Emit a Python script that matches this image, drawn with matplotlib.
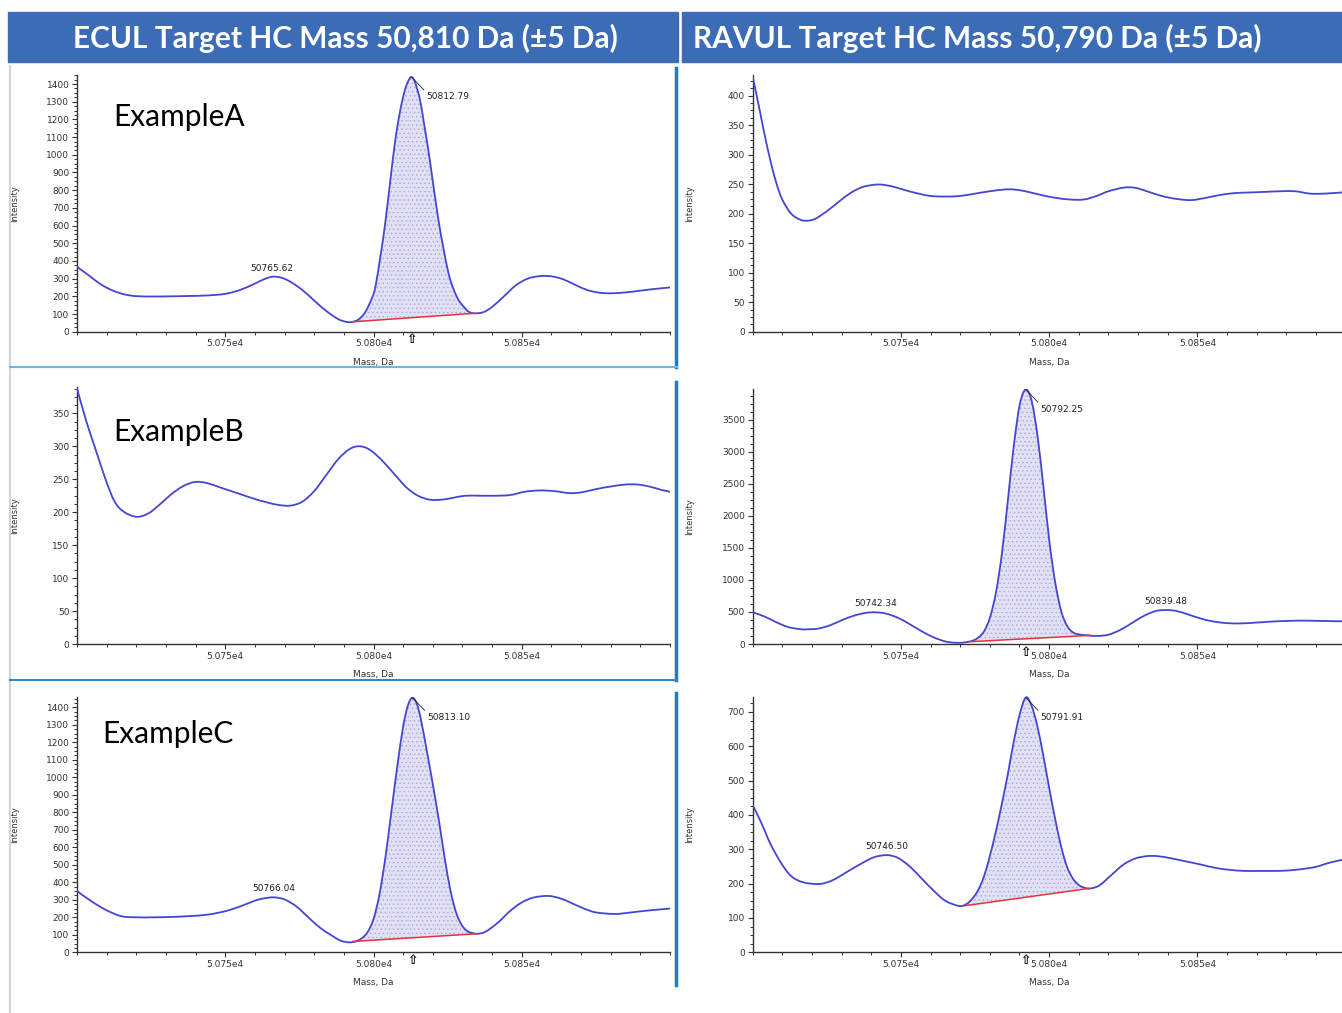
import matplotlib
matplotlib.use("Agg")
import matplotlib.pyplot as plt
from matplotlib.patches import Rectangle, PathPatch
from matplotlib.path import Path
from matplotlib.lines import Line2D
from matplotlib.ticker import FixedLocator, MultipleLocator, AutoMinorLocator

W, H = 1342, 1013

headers = ["ECUL Target HC Mass 50,810 Da (\u00b15 Da)",
           "RAVUL Target HC Mass 50,790 Da (\u00b15 Da)"]
sample_names = ["ExampleA", "ExampleB", "ExampleC"]
x_ticks = [50750, 50800, 50850]
x_tick_labels = ["5.075e4", "5.080e4", "5.085e4"]

# ---- ECUL / ExampleA ----
mass_a = [50700, 50704, 50708, 50712, 50716, 50720, 50726, 50732, 50738, 50744,
          50750, 50755, 50760, 50763, 50766, 50769, 50772, 50776, 50780, 50784,
          50788, 50791, 50793, 50795, 50797, 50798.7, 50800.4, 50802, 50803.8, 50805.5,
          50807.2, 50809, 50810.6, 50811.8, 50812.8, 50814, 50815.7, 50817, 50818.5, 50820,
          50821.9, 50823.5, 50825.3, 50827, 50828.7, 50830.5, 50832.1, 50834, 50837, 50840,
          50844, 50848, 50852, 50856, 50860, 50864, 50868, 50872, 50876, 50880,
          50885, 50890, 50895, 50900]
int_a = [367, 318, 268, 233, 211, 201, 199, 200, 202, 205,
         214, 236, 272, 296, 311, 305, 282, 236, 176, 118,
         72, 55, 56, 70, 105, 160, 236, 390, 594, 830,
         1065, 1250, 1366, 1420, 1440, 1410, 1310, 1180, 1027, 850,
         631, 480, 330, 240, 179, 140, 113, 104, 110, 140,
         200, 262, 300, 314, 313, 296, 265, 236, 221, 217,
         222, 232, 242, 250]
base_a_x = [50793, 50834]
base_a_y = [56, 104]

# ---- ECUL / ExampleB ----
mass_b = [50700, 50703, 50706, 50709.7, 50712.7, 50715.7, 50720, 50724, 50728, 50732,
          50736, 50740, 50744, 50748, 50752, 50756, 50760, 50764, 50768, 50772,
          50776, 50780, 50784, 50788, 50792, 50795.5, 50799, 50803, 50807, 50811,
          50815, 50819, 50823, 50827, 50831, 50836, 50841, 50846, 50851, 50856,
          50861, 50866, 50870, 50875, 50880, 50885, 50889, 50893, 50897, 50900]
int_b = [388, 340, 299, 249, 216, 201, 193, 198, 212, 228,
         240, 246, 244, 238, 232, 226, 220, 215, 211, 210,
         216, 232, 256, 280, 296, 300, 294, 278, 258, 238,
         225, 219, 219, 222, 225, 225, 225, 226, 231, 233,
         232, 229, 230, 235, 239, 242, 242, 239, 234, 231]

# ---- ECUL / ExampleC ----
mass_c = [50700, 50705, 50710, 50715, 50720, 50726, 50732, 50738, 50744, 50750,
          50755, 50760, 50763, 50766.4, 50770, 50774, 50778, 50782, 50786, 50789,
          50791.8, 50794, 50796, 50798, 50800, 50802, 50804, 50806, 50808, 50810,
          50811.6, 50813.1, 50814.6, 50816, 50818, 50820, 50822, 50824, 50826, 50828,
          50830, 50832, 50835, 50838, 50842, 50846, 50850, 50854, 50858.9, 50863,
          50867, 50871, 50875, 50881.3, 50886, 50891, 50896, 50900]
int_c = [350, 290, 240, 206, 200, 200, 202, 207, 215, 235,
         262, 295, 308, 314, 302, 262, 200, 140, 95, 66,
         57, 62, 80, 115, 190, 330, 540, 800, 1060, 1290,
         1410, 1455, 1420, 1330, 1150, 960, 760, 540, 350, 220,
         150, 118, 106, 120, 170, 235, 285, 313, 322, 308,
         280, 250, 228, 219, 226, 236, 244, 250]
base_c_x = [50793, 50835]
base_c_y = [62, 106]

# ---- RAVUL / ExampleA ----
mass_d = [50700, 50702, 50704, 50706, 50708, 50710, 50713, 50716, 50718.2, 50721,
          50725, 50729, 50733, 50737, 50741, 50744, 50748, 50752, 50756, 50760,
          50765, 50770, 50775, 50780, 50785, 50788, 50792, 50797, 50802, 50807,
          50811.7, 50816, 50820, 50825, 50828.8, 50833, 50838, 50843, 50848, 50853,
          50858, 50863, 50868, 50873, 50878, 50883, 50888, 50893, 50899, 50902]
int_d = [433, 385, 335, 290, 252, 224, 200, 190, 188, 191,
         204, 220, 235, 245, 249, 249, 245, 239, 234, 230,
         229, 230, 234, 238, 241, 241, 238, 232, 227, 224,
         224, 230, 238, 244, 244, 238, 230, 225, 223, 227,
         232, 235, 236, 237, 238, 238, 234, 234, 236, 236]

# ---- RAVUL / ExampleB ----
mass_e = [50700, 50704, 50708, 50712, 50716, 50718.2, 50722, 50726, 50730, 50734,
          50738, 50741.5, 50745, 50749, 50753, 50757, 50761, 50765, 50768.2, 50771,
          50774.1, 50776.1, 50778.1, 50780.1, 50782.1, 50784.1, 50786.1, 50788.1, 50790.1, 50792.1,
          50794.1, 50796.1, 50798.1, 50800.1, 50802.1, 50804.1, 50806.1, 50808.1, 50810.1, 50813,
          50816, 50820, 50824, 50828, 50832, 50836, 50839.5, 50843, 50847, 50851,
          50855, 50860, 50865, 50870, 50875, 50880, 50885, 50890, 50895, 50900, 50902]
int_e = [495, 430, 340, 265, 232, 229, 240, 290, 370, 440,
         485, 495, 475, 410, 310, 200, 105, 40, 20, 22,
         50, 100, 200, 420, 810, 1420, 2250, 3100, 3740, 3975,
         3800, 3250, 2450, 1600, 950, 510, 280, 180, 150, 135,
         125, 145, 220, 330, 440, 515, 531, 515, 460, 400,
         355, 326, 322, 335, 350, 360, 365, 362, 357, 355, 355]
base_e_x = [50773, 50814]
base_e_y = [35, 135]

# ---- RAVUL / ExampleC ----
mass_f = [50700, 50703, 50706, 50709.7, 50713, 50717, 50722.5, 50727, 50732, 50737,
          50741, 50745.3, 50749, 50753, 50757, 50761, 50765, 50769.6, 50772, 50774,
          50776, 50778, 50780, 50782, 50784, 50786, 50788, 50790, 50792.1, 50794,
          50796, 50798, 50800, 50802, 50804, 50806, 50808, 50810, 50812, 50814,
          50817, 50821, 50825, 50829, 50833, 50836.6, 50841, 50846, 50851, 50856,
          50861, 50866, 50871, 50876, 50880, 50885, 50890, 50895, 50900, 50902]
int_f = [429, 376, 316, 259, 222, 204, 199, 210, 235, 260,
         277, 283, 275, 250, 215, 180, 150, 135, 140, 155,
         180, 220, 280, 350, 430, 515, 610, 690, 742, 720,
         660, 575, 480, 390, 310, 250, 215, 196, 188, 186,
         195, 225, 255, 273, 280, 280, 274, 265, 256, 246,
         240, 237, 237, 237, 238, 242, 249, 262, 271, 274]
base_f_x = [50771, 50813.5]
base_f_y = [135, 186]

LINE = "#4545d2"
plt.rcParams["hatch.linewidth"] = 0.5

fig = plt.figure(figsize=(W / 100, H / 100), dpi=100)


def px(x0, y0, x1, y1):
    return [x0 / W, 1 - y1 / H, (x1 - x0) / W, (y1 - y0) / H]


def smooth_segments(xs, ys, i0, i1):
    # Catmull-Rom style bezier control points between the read points i0..i1
    verts = []
    n = len(xs)
    for i in range(i0, i1):
        p0 = max(i - 1, 0)
        p3 = min(i + 2, n - 1)
        c1 = (xs[i] + (xs[i + 1] - xs[p0]) / 6, ys[i] + (ys[i + 1] - ys[p0]) / 6)
        c2 = (xs[i + 1] - (xs[p3] - xs[i]) / 6, ys[i + 1] - (ys[p3] - ys[i]) / 6)
        verts += [c1, c2, (xs[i + 1], ys[i + 1])]
    return verts


# header bars
fig.patches.append(Rectangle((8 / W, 1 - 62 / H), 670 / W, 50 / H,
                             transform=fig.transFigure, color="#3c6cb5", zorder=0))
fig.patches.append(Rectangle((682 / W, 1 - 62 / H), 660 / W, 50 / H,
                             transform=fig.transFigure, color="#3c6cb5", zorder=0))
fig.text(345 / W, 1 - 38 / H, headers[0], color="white", fontsize=21.5,
         fontweight="bold", family="Lato", ha="center", va="center")
fig.text(977 / W, 1 - 38 / H, headers[1], color="white", fontsize=21.5,
         fontweight="bold", family="Lato", ha="center", va="center")

# frames round the left panels
fig.add_artist(Line2D([10 / W, 10 / W], [1 - 66 / H, 0], color="#d4d4d4", lw=1.5))
for y0, y1 in [(68, 367), (382, 680), (693, 985)]:
    fig.add_artist(Line2D([676 / W, 676 / W], [1 - y0 / H, 1 - y1 / H],
                          color="#1a7fc8", lw=2.5))
fig.add_artist(Line2D([10 / W, 677 / W], [1 - 367 / H, 1 - 367 / H], color="#6fb6dc", lw=1.5))
fig.add_artist(Line2D([10 / W, 677 / W], [1 - 680 / H, 1 - 680 / H], color="#2a8bd0", lw=1.5))


def draw(box, mass, inten, ymax, ystep, base_x=None, base_y=None, main=None, minors=()):
    ax = fig.add_axes(px(*box))
    ax.set_facecolor("none")
    verts = [(mass[0], inten[0])] + smooth_segments(mass, inten, 0, len(mass) - 1)
    codes = [Path.MOVETO] + [Path.CURVE4] * (len(verts) - 1)
    ax.add_patch(PathPatch(Path(verts, codes), fill=False, edgecolor=LINE,
                           lw=1.3, zorder=3, capstyle="round", joinstyle="round"))
    if base_x:
        idx = [i for i, m in enumerate(mass) if base_x[0] <= m <= base_x[1]]
        i0, i1 = idx[0], idx[-1]
        fverts = [(base_x[0], base_y[0]), (mass[i0], inten[i0])]
        fverts += smooth_segments(mass, inten, i0, i1)
        fverts += [(base_x[1], base_y[1]), (base_x[0], base_y[0])]
        fcodes = [Path.MOVETO, Path.LINETO] + [Path.CURVE4] * (3 * (i1 - i0)) \
            + [Path.LINETO, Path.CLOSEPOLY]
        ax.add_patch(PathPatch(Path(fverts, fcodes), facecolor="#e1e1f6",
                               edgecolor="#a5a5d4", hatch="....", lw=0, zorder=2))
        ax.plot(base_x, base_y, color="#e5323a", lw=1.1, zorder=4)
    if main:
        mx, my, txt = main
        ax.annotate(txt, xy=(mx, my), xytext=(15, -20), textcoords="offset pixels",
                    fontsize=6.5, color="#222222", ha="left", va="center",
                    arrowprops=dict(arrowstyle="-", lw=0.6, color="#222222",
                                    shrinkA=0, shrinkB=0, relpos=(0, 1)))
        ax.annotate("\u21e7", xy=(mx, 0), xycoords=("data", "axes fraction"),
                    xytext=(0, -8), textcoords="offset pixels", fontsize=9,
                    fontweight="bold", ha="center", va="center", annotation_clip=False)
    for mx, my, txt in minors:
        ax.annotate(txt, xy=(mx, my), xytext=(0, 4), textcoords="offset pixels",
                    fontsize=6.5, color="#222222", ha="center", va="bottom")
    ax.set_xlim(50700, 50900)
    ax.set_ylim(0, ymax)
    ax.spines[["top", "right"]].set_visible(False)
    for s in ["left", "bottom"]:
        ax.spines[s].set_color("#333333")
        ax.spines[s].set_linewidth(1.0)
    ax.xaxis.set_major_locator(FixedLocator(x_ticks))
    ax.set_xticklabels(x_tick_labels)
    ax.xaxis.set_minor_locator(MultipleLocator(10))
    ax.yaxis.set_major_locator(MultipleLocator(ystep))
    ax.yaxis.set_minor_locator(AutoMinorLocator(4))
    ax.tick_params(which="major", length=3.5, width=0.8, labelsize=6.5,
                   colors="#333333", pad=2)
    ax.tick_params(which="minor", length=2, width=0.7, colors="#333333")
    ax.set_xlabel("Mass, Da", fontsize=6.5, color="#333333")
    ax.set_ylabel("Intensity", fontsize=6, color="#333333")
    ax.xaxis.set_label_coords(0.5, -26 / (box[3] - box[1]))
    ax.yaxis.set_label_coords(-58 / (box[2] - box[0]), 0.5)
    return ax


draw((77, 75.2, 670, 331.7), mass_a, int_a, 1450, 100, base_a_x, base_a_y,
     (50812.8, 1440, "50812.79"), [(50765.6, 311, "50765.62")])
draw((77, 387, 670, 644), mass_b, int_b, 390, 50)
draw((77, 696.8, 670, 952.3), mass_c, int_c, 1460, 100, base_c_x, base_c_y,
     (50813.1, 1455, "50813.10"), [(50766.4, 314, "50766.04")])
draw((752.6, 75, 1345.6, 331.7), mass_d, int_d, 435, 50)
draw((752.6, 388.6, 1345.6, 644), mass_e, int_e, 3990, 500, base_e_x, base_e_y,
     (50792.1, 3975, "50792.25"),
     [(50741.5, 495, "50742.34"), (50839.5, 531, "50839.48")])
draw((752.6, 696.5, 1345.6, 952.3), mass_f, int_f, 745, 100, base_f_x, base_f_y,
     (50792.1, 742, "50791.91"), [(50745.3, 283, "50746.50")])

for name, (x, y) in zip(sample_names, [(113, 117), (113, 432), (102, 734)]):
    fig.text(x / W, 1 - y / H, name, fontsize=21.5, family="Lato",
             ha="left", va="center", color="black")

fig.savefig("out.png", dpi=100)
